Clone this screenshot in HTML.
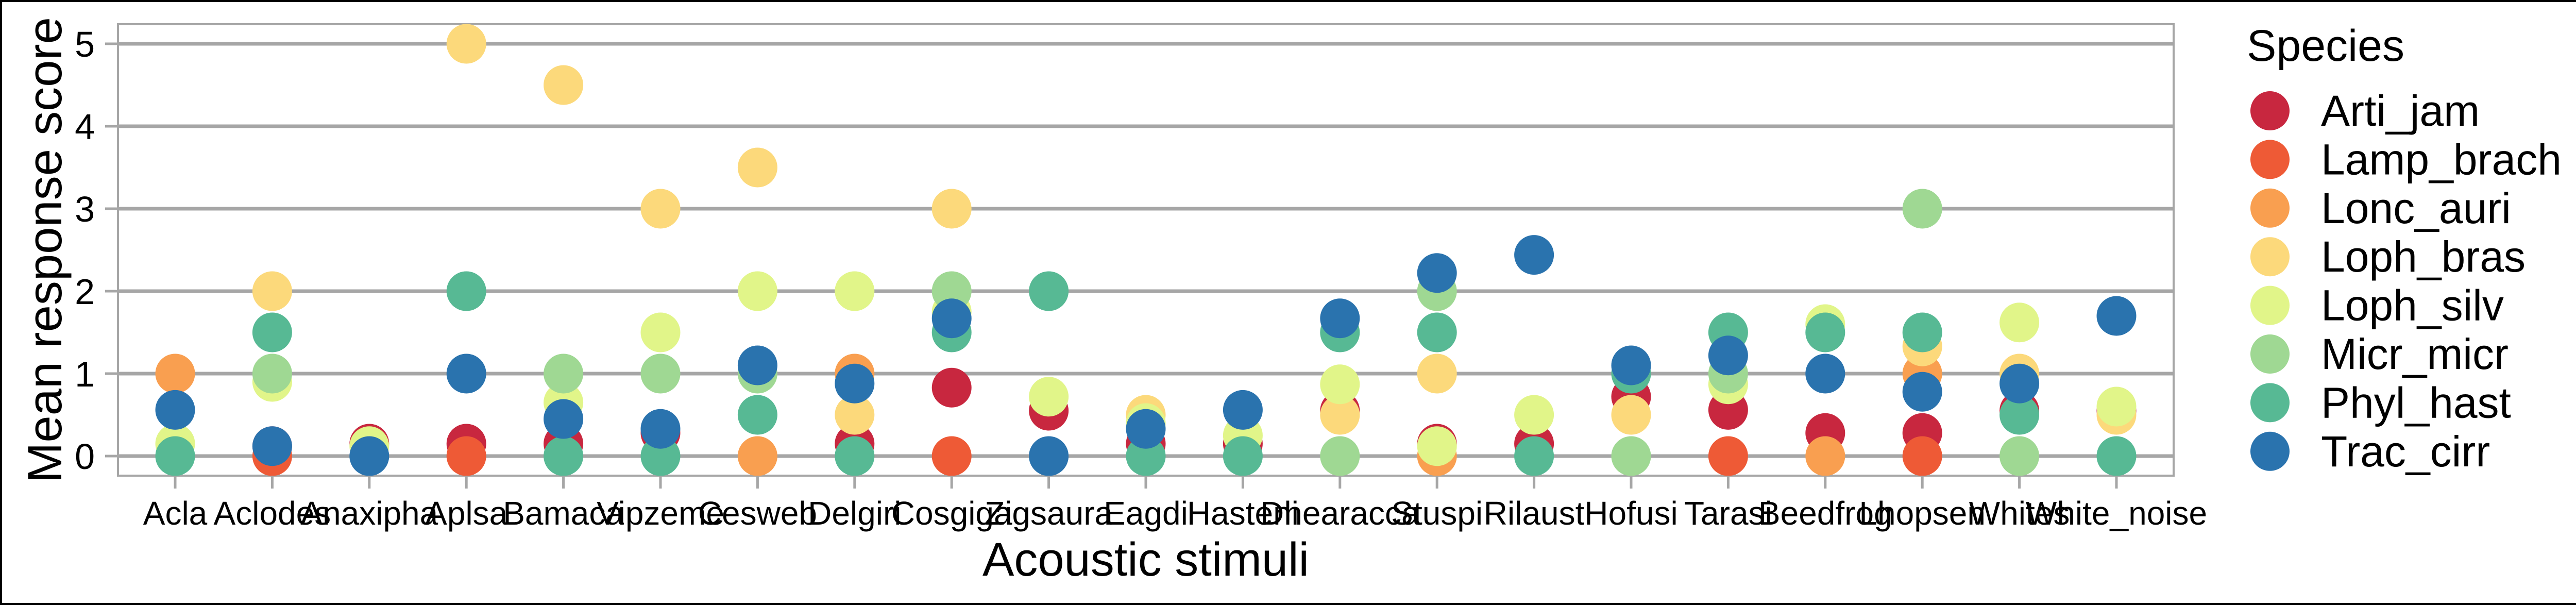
<!DOCTYPE html>
<html><head><meta charset="utf-8"><style>
html,body{margin:0;padding:0;background:#fff}
svg{display:block;font-family:"Liberation Sans",Arial,sans-serif}
</style></head><body>
<svg id="chart" width="5100" height="1174" viewBox="0 0 5100 1174" xmlns="http://www.w3.org/2000/svg">
<rect x="2" y="2" width="5096" height="1170" fill="#fff" stroke="#000" stroke-width="4"/>
<g id="grid"></g>
<rect x="229" y="47" width="3990" height="876" fill="none" stroke="#a6a6a6" stroke-width="4"/>
<g id="points"></g>
<g id="xaxis"></g>
<g id="yaxis"></g>
<text x="2224" y="1117" font-size="92" text-anchor="middle" fill="#000">Acoustic stimuli</text>
<text transform="translate(119,485) rotate(-90)" font-size="94" text-anchor="middle" fill="#000">Mean response score</text>
<g id="legend">
<text x="4361" y="118" font-size="86" fill="#000">Species</text>
</g>
</svg>
<script>
const categories = ["Acla","Aclodes","Anaxipha","Aplsa","Bamaca","Vipzeme","Cesweb","Delgiri","Cosgiga","Zigsaura","Eagdi","Hasteni","Dhearacca","Stuspi","Rilaust","Hofusi","Tarasi","Beedfrog","Lhopsen","Whites","White_noise"];
const species = ["Arti_jam","Lamp_brach","Lonc_auri","Loph_bras","Loph_silv","Micr_micr","Phyl_hast","Trac_cirr"];
const speciesColors = ["#C8273F","#EE5A36","#F99F50","#FCD97B","#E1F589","#9FD893","#57B994","#2A73AE"];
const artiJam   = [null,0.12,0.15,0.15,0.15,0.28,null,0.15,0.83,0.55,0.15,0.15,0.55,0.15,0.15,0.72,0.56,0.28,0.28,0.55,0.55];
const lampBrach = [null,0,null,0,null,null,null,null,0,null,null,null,null,null,null,null,0,null,0,null,null];
const loncAuri  = [1,null,null,null,null,null,0,1,null,null,null,null,null,0,null,null,null,0,1,null,null];
const lophBras  = [null,2,null,5,4.5,3,3.5,0.5,3,null,0.5,null,0.5,1,null,0.5,null,null,1.33,1,0.5];
const lophSilv  = [0.15,0.9,0.12,null,0.65,1.5,2,2,1.75,0.72,0.4,0.25,0.87,0.12,0.5,null,0.87,1.6,null,1.62,0.6];
const micrMicr  = [null,1,null,null,1,1,1,null,2,null,null,null,0,2,null,0,1,null,3,0,null];
const phylHast  = [0,1.5,null,2,0,0,0.5,0,1.5,2,0,0,1.5,1.5,0,1,1.5,1.5,1.5,0.5,0];
const tracCirr  = [0.56,0.12,0,1,0.45,0.33,1.1,0.88,1.67,0,0.33,0.56,1.67,2.22,2.44,1.1,1.22,1,0.78,0.88,1.7];
const seriesValues = [artiJam,lampBrach,loncAuri,lophBras,lophSilv,micrMicr,phylHast,tracCirr];
const yTicks = [0,1,2,3,4,5];

const NS = "http://www.w3.org/2000/svg";
const x0 = 340, xStep = 188.4;
const xScale = i => x0 + i * xStep;
const yScale = v => 885 - v * 160;
function mk(tag, attrs, parent){const e=document.createElementNS(NS,tag);for(const k in attrs)e.setAttribute(k,attrs[k]);parent.appendChild(e);return e;}

const grid = document.getElementById('grid');
const yaxis = document.getElementById('yaxis');
yTicks.forEach(t => {
  const l = mk('line',{x1:229,x2:4219,y1:yScale(t),y2:yScale(t),stroke:'#a6a6a6','stroke-width':7},grid);
  
  
  const tk = mk('line',{x1:204,x2:229,y1:yScale(t),y2:yScale(t),stroke:'#a6a6a6','stroke-width':5},yaxis);
  
  
  const tx = mk('text',{x:184,y:yScale(t)+25,'font-size':70,'text-anchor':'end',fill:'#000'},yaxis);
  tx.textContent = t;
  
  
});

const xaxis = document.getElementById('xaxis');
categories.forEach((c,i) => {
  const tk = mk('line',{x1:xScale(i),x2:xScale(i),y1:923,y2:948,stroke:'#a6a6a6','stroke-width':5},xaxis);
  
  
  const tx = mk('text',{x:xScale(i),y:1018,'font-size':64,'text-anchor':'middle',fill:'#000'},xaxis);
  tx.textContent = c;
  
  
});

const pts = document.getElementById('points');
seriesValues.forEach((arr,s) => {
  arr.forEach((v,i) => {
    if (v === null) return;
    const p = mk('circle',{cx:xScale(i),cy:yScale(v),r:38.5,fill:speciesColors[s]},pts);
    
    
  });
});

const legend = document.getElementById('legend');
species.forEach((sp,s) => {
  const cy = 215 + s*94.4;
  const c = mk('circle',{cx:4406,cy:cy,r:38,fill:speciesColors[s]},legend);
  
  
  const t = mk('text',{x:4505,y:cy+29,'font-size':84,fill:'#000'},legend);
  t.textContent = sp;
  
  
});
</script>
</body></html>
